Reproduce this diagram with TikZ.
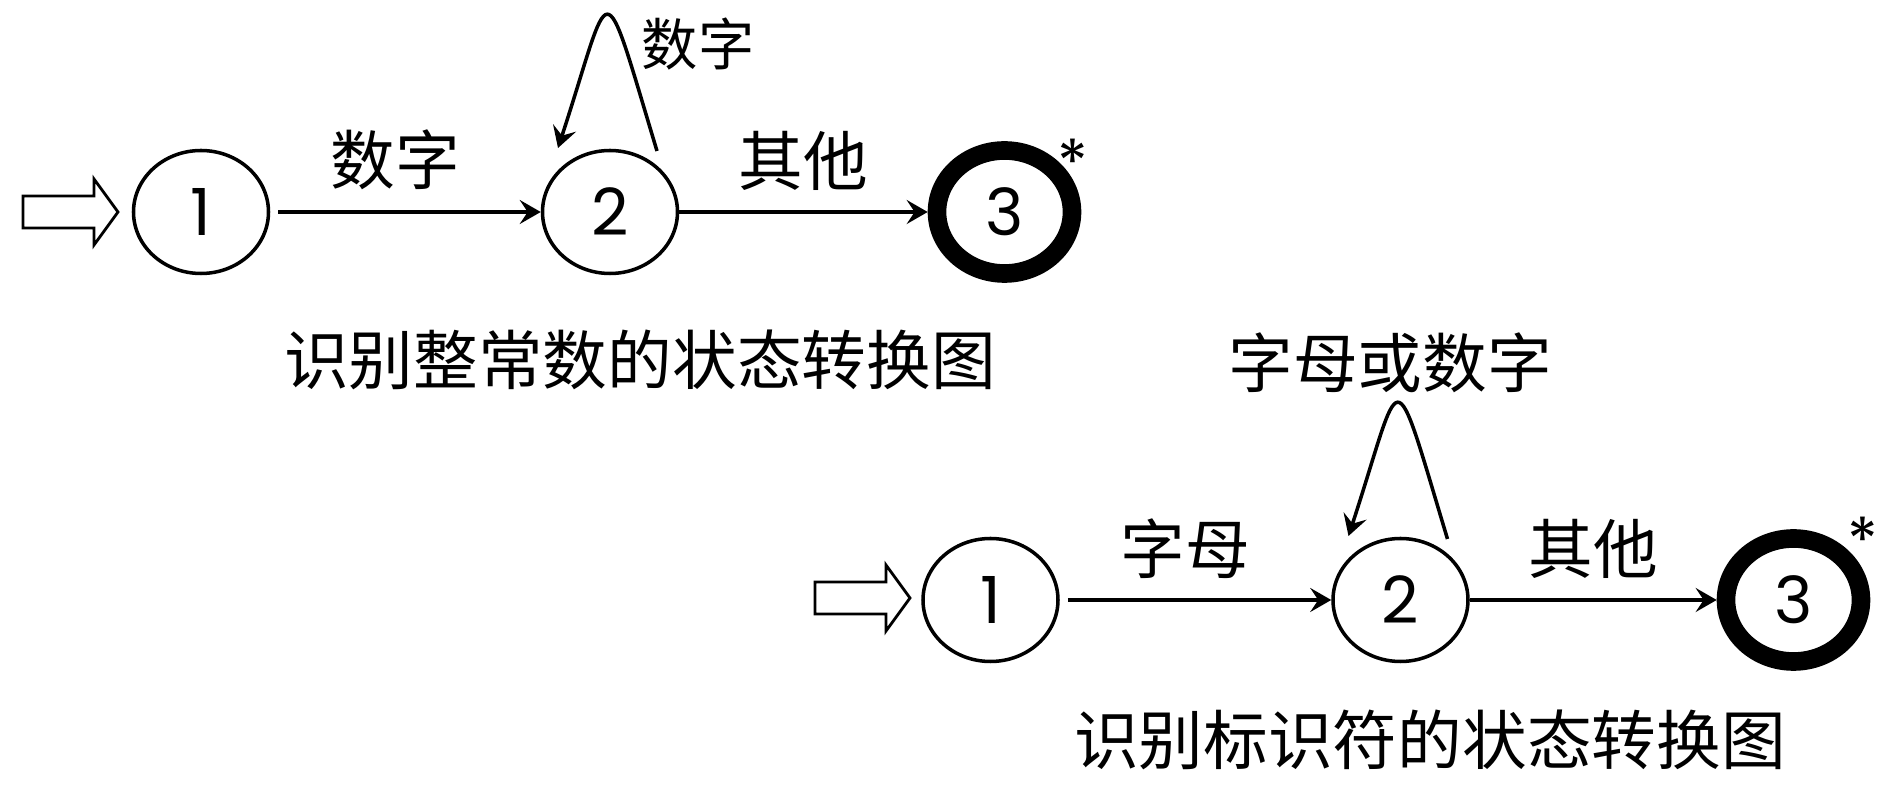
\documentclass[tikz,border=0pt]{standalone}
\usepackage{fontspec}
\setmainfont{Noto Sans CJK SC}
\newfontfamily\digitfont{Poppins}
\usetikzlibrary{shapes.geometric,arrows.meta}
\tikzstyle{state}=[ellipse,draw,line width=1pt,minimum width=1.35cm,minimum height=1.23cm,inner sep=0pt,font=\digitfont\fontsize{18.5pt}{22pt}\selectfont]
\tikzstyle{accept}=[state,line width=5.3pt]
\tikzstyle{trans}=[-{Stealth[length=0.21cm,width=0.24cm,inset=0.08cm]},line width=1pt]
\tikzstyle{lbl}=[font=\fontsize{18.4pt}{22pt}\selectfont,inner sep=0pt]
\tikzstyle{asterisk}=[font=\digitfont\fontsize{18pt}{20pt}\selectfont,inner sep=0pt]

\begin{document}
\begin{tikzpicture}
\useasboundingbox (0,0) rectangle (18.98,-8);

% integer constants
\node[state] at (2.01, -2.12) (n1) {1};
\node[state] at (6.10, -2.12) (n2) {2};
\node[accept] at (10.045, -2.12) (n3) {3};
\node[asterisk] at (10.73, -1.62) (n3s) {*};
\coordinate (n0) at (0.23, -2.12);
\draw[line width=0.8pt] (n0) ++(0,0.16) -- ++(0.71,0) -- ++(0,0.17) -- ++(0.24,-0.33) -- ++(-0.24,-0.33) -- ++(0,0.17) -- ++(-0.71,0) -- cycle;
\draw[trans, shorten <=0.08cm] (n1) edge node[lbl, above=0.2cm, xshift=-0.1cm] {数字} (n2);
\draw[trans] (n2) edge node[lbl, above=0.2cm] {其他} (n3);
\draw[trans] ([shift={(0.47,0.61)}]n2.center) .. controls +(-0.57,1.89) and +(0.55,1.68) .. ([shift={(-0.52,0.64)}]n2.center);
\node[lbl, font=\fontsize{16pt}{20pt}\selectfont] at (6.98, -0.44) (l2) {数字};
\node[lbl] at (6.40, -3.60) (cap1) {识别整常数的状态转换图};

% identifiers
\node[state] at (9.905, -6.00) (m1) {1};
\node[state] at (14.005, -6.00) (m2) {2};
\node[accept] at (17.935, -6.00) (m3) {3};
\node[asterisk] at (18.63, -5.40) (m3s) {*};
\coordinate (m0) at (8.15, -5.98);
\draw[line width=0.8pt] (m0) ++(0,0.16) -- ++(0.71,0) -- ++(0,0.17) -- ++(0.24,-0.33) -- ++(-0.24,-0.33) -- ++(0,0.17) -- ++(-0.71,0) -- cycle;
\draw[trans, shorten <=0.08cm] (m1) edge node[lbl, above=0.2cm, xshift=-0.1cm] {字母} (m2);
\draw[trans] (m2) edge node[lbl, above=0.2cm] {其他} (m3);
\draw[trans] ([shift={(0.47,0.61)}]m2.center) .. controls +(-0.57,1.89) and +(0.55,1.68) .. ([shift={(-0.52,0.64)}]m2.center);
\node[lbl] at (13.90, -3.63) (l5) {字母或数字};
\node[lbl] at (14.30, -7.40) (cap2) {识别标识符的状态转换图};

\end{tikzpicture}
\end{document}
